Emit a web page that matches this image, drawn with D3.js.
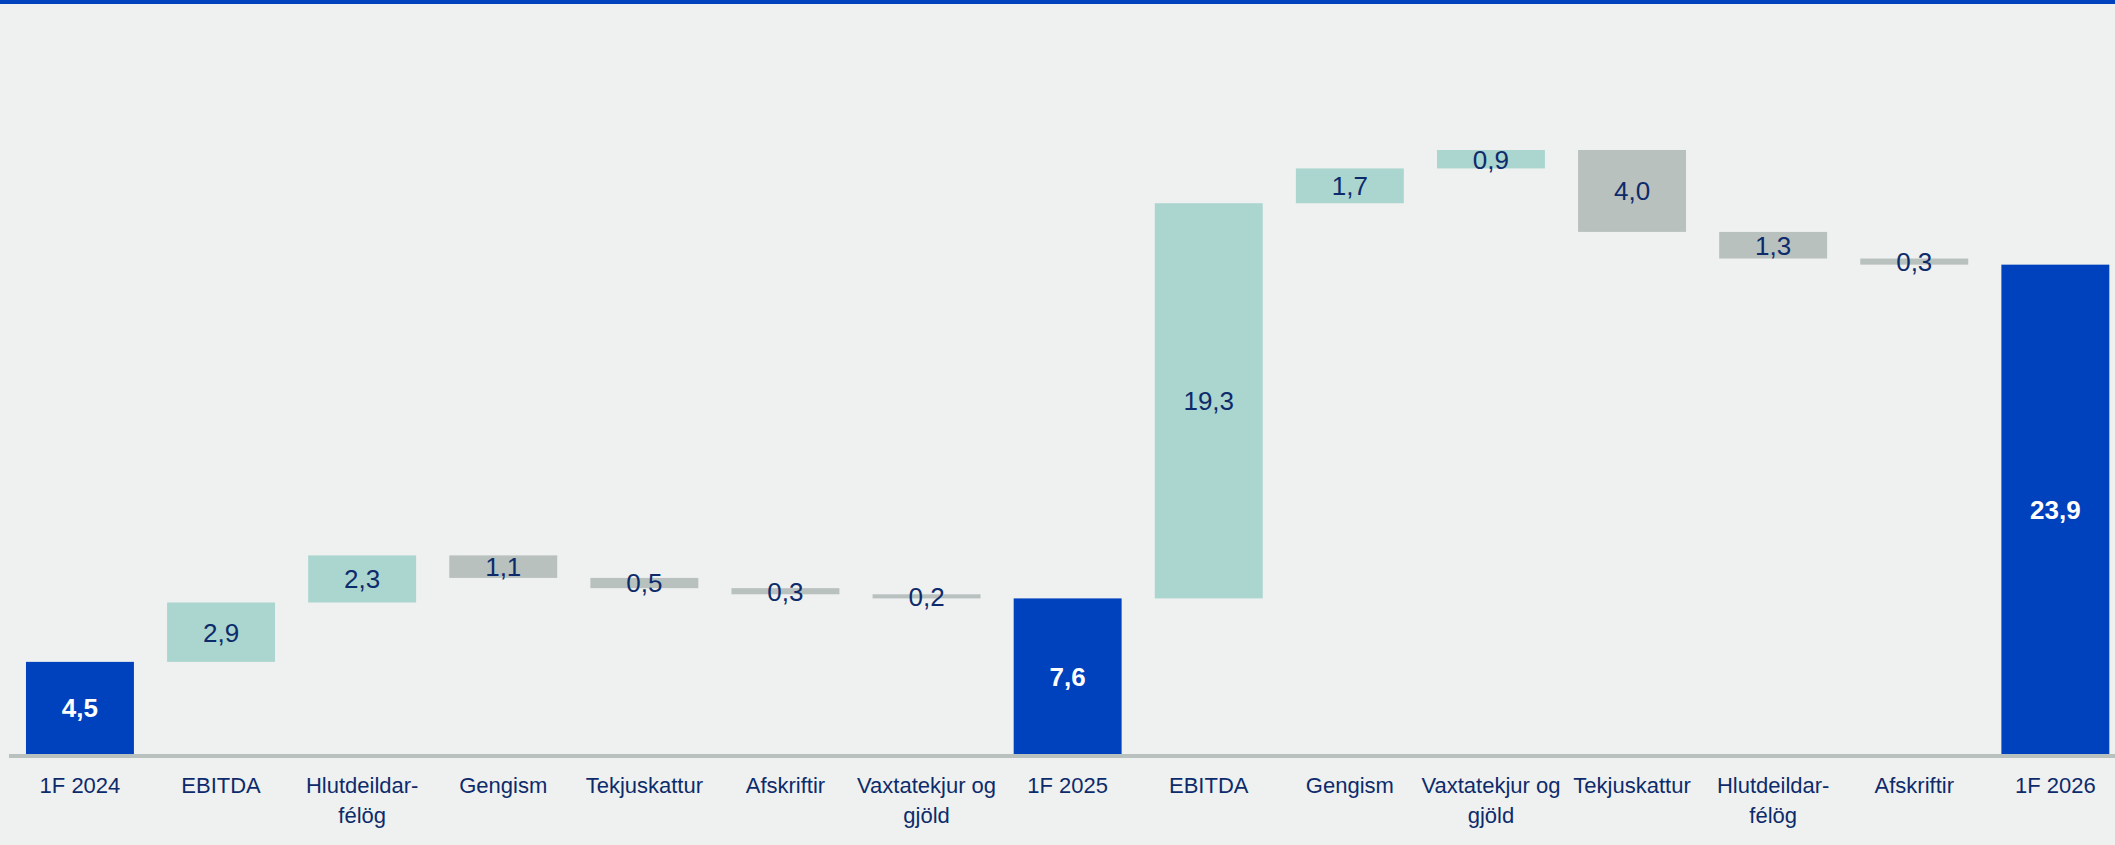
<!DOCTYPE html>
<html>
<head>
<meta charset="utf-8">
<script src="https://cdn.jsdelivr.net/npm/d3@7"></script>
<style>
  html, body { margin: 0; padding: 0; background: #eff1f0; }
  svg { display: block; }
  text { font-family: "Liberation Sans", Arial, sans-serif; }
</style>
</head>
<body>
<svg id="chart" width="2115" height="845"></svg>
<script>
// ---- data ----
const categories = [
  "1F 2024", "EBITDA", "Hlutdeildar-\nfélög", "Gengism", "Tekjuskattur",
  "Afskriftir", "Vaxtatekjur og\ngjöld", "1F 2025", "EBITDA", "Gengism",
  "Vaxtatekjur og\ngjöld", "Tekjuskattur", "Hlutdeildar-\nfélög", "Afskriftir", "1F 2026"
];
const values = [4.5, 2.9, 2.3, -1.1, -0.5, -0.3, -0.2, 7.6, 19.3, 1.7, 0.9, -4.0, -1.3, -0.3, 23.9];
const kinds = ["total", "delta", "delta", "delta", "delta", "delta", "delta", "total",
               "delta", "delta", "delta", "delta", "delta", "delta", "total"];
const yDomain = [0, 29.5];

// ---- build waterfall segments ----
let running = 0;
const segs = values.map((v, i) => {
  let s, e;
  if (kinds[i] === "total") { s = 0; e = v; running = v; }
  else { s = running; e = running + v; running = e; }
  return { i, v, kind: kinds[i], y0: Math.min(s, e), y1: Math.max(s, e) };
});

const colors = { total: "#0041bd", up: "#abd5cf", down: "#b9c1bf" };
const fmt = v => Math.abs(v).toFixed(1).replace(".", ",");

const svg = d3.select("#chart");
svg.append("rect").attr("x", 0).attr("y", 0).attr("width", 2115).attr("height", 845).attr("fill", "#eff1f0");
svg.append("rect").attr("x", 0).attr("y", 0).attr("width", 2115).attr("height", 4).attr("fill", "#0041bd");

const x = d3.scaleBand()
  .domain(d3.range(categories.length))
  .range([9.4, 9.4 + 141.1 * categories.length])
  .paddingInner(0.235)
  .paddingOuter(0.1175);

const y = d3.scaleLinear().domain(yDomain).range([754, 150]);

// bars
svg.append("g").selectAll("rect")
  .data(segs)
  .join("rect")
  .attr("x", d => x(d.i))
  .attr("width", x.bandwidth())
  .attr("y", d => y(d.y1))
  .attr("height", d => Math.max(1, y(d.y0) - y(d.y1)))
  .attr("fill", d => d.kind === "total" ? colors.total : (d.v >= 0 ? colors.up : colors.down));

// baseline
svg.append("line")
  .attr("x1", 9).attr("x2", 2115)
  .attr("y1", y(0) + 2).attr("y2", y(0) + 2)
  .attr("stroke", "#b9c1bf").attr("stroke-width", 4);

// value labels
svg.append("g").selectAll("text")
  .data(segs)
  .join("text")
  .attr("x", d => x(d.i) + x.bandwidth() / 2)
  .attr("y", d => (y(d.y0) + y(d.y1)) / 2)
  .attr("dy", "0.36em")
  .attr("text-anchor", "middle")
  .attr("font-size", d => d.kind === "total" ? 26 : 26)
  .attr("font-weight", d => d.kind === "total" ? "bold" : "normal")
  .attr("fill", d => d.kind === "total" ? "#ffffff" : "#0d2b6b")
  .text(d => fmt(d.v));

// category labels (x axis)
const xAxis = d3.axisBottom(x).tickSize(0).tickFormat("");
const ax = svg.append("g").attr("transform", `translate(0,${y(0) + 4})`).call(xAxis);
ax.select(".domain").remove();
ax.selectAll(".tick").each(function (d) {
  const lines = categories[d].split("\n");
  const t = d3.select(this).append("text")
    .attr("fill", "#0d2b6b")
    .attr("font-size", 22)
    .attr("text-anchor", "middle");
  lines.forEach((ln, k) => {
    t.append("tspan").attr("x", 0).attr("y", 35 + k * 30).text(ln);
  });
});
</script>
</body>
</html>
